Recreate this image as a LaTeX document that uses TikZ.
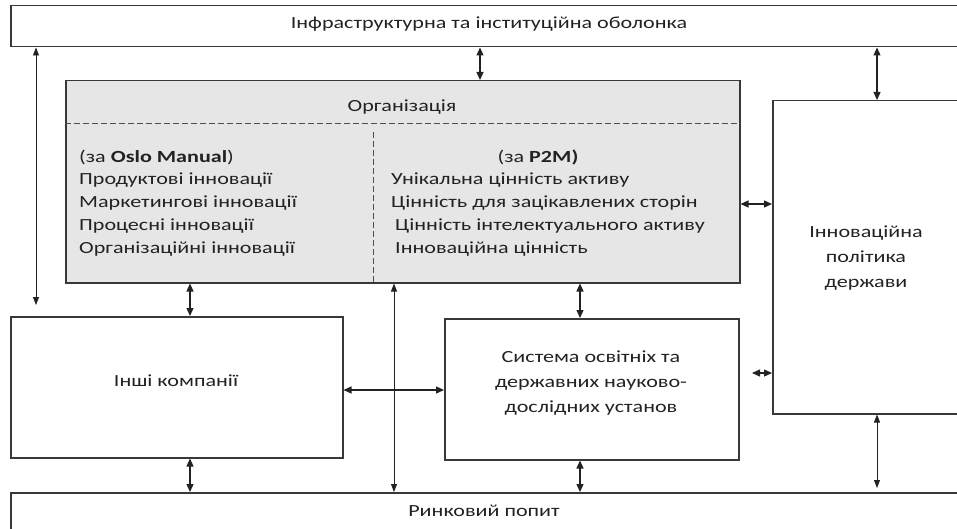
\documentclass[tikz,border=0pt]{standalone}
\usepackage{fontspec}
\setmainfont{Carlito}[FakeStretch=1.3]
\usetikzlibrary{arrows.meta}
\definecolor{ink}{HTML}{222222}
\definecolor{boxgray}{HTML}{E6E6E6}
\tikzset{
  box/.style={draw=ink!90, line width=1.5pt, anchor=north west, inner sep=0pt},
  lbl/.style={text=ink, font=\fontsize{17}{20}\selectfont, inner sep=0pt},
  arr/.style={{Triangle[length=8pt,width=7pt]}-{Triangle[length=8pt,width=7pt]}, line width=1.2pt, draw=ink},
  tarr/.style={{Triangle[length=8pt,width=6pt]}-{Triangle[length=8pt,width=6pt]}, line width=0.8pt, draw=ink},
  dsh/.style={dashed, dash pattern=on 6pt off 3pt, line width=0.9pt, draw=ink!80},
}
\begin{document}
\begin{tikzpicture}[x=1pt,y=-1pt]
\useasboundingbox (0,0) rectangle (957,529);
% boxes
\node[box, minimum width=960pt, minimum height=41pt] (top) at (10,5) {};
\node[box, minimum width=960pt, minimum height=45pt] (bot) at (10,492) {};
\node[box, fill=boxgray, minimum width=674pt, minimum height=202pt] (org) at (65,80) {};
\node[box, minimum width=200pt, minimum height=313pt] (pol) at (772,100) {};
\node[box, minimum width=332pt, minimum height=141pt] (oth) at (10,316) {};
\node[box, minimum width=294pt, minimum height=141pt] (sys) at (444,318) {};
% texts
\node[lbl] (ttop) at (489,24) {Інфраструктурна та інституційна оболонка};
\node[lbl] (tbot) at (484,511) {Ринковий попит};
\node[lbl] (torg) at (402,107) {Організація};
\node[lbl] (toth) at (176,381) {Інші компанії};
\node[lbl, align=center] (tsys) at (591,383) {Система освітніх та\\[5pt]державних науково-\\[5pt]дослідних установ};
\node[lbl, align=center] (tpol) at (866,258) {Інноваційна\\[5pt]політика\\[5pt]держави};
\node[lbl, anchor=west] (l1) at (79,157) {(за \textbf{Oslo Manual})};
\node[lbl, anchor=west] (l2) at (79,180) {Продуктові інновації};
\node[lbl, anchor=west] (l3) at (79,203) {Маркетингові інновації};
\node[lbl, anchor=west] (l4) at (79,226) {Процесні інновації};
\node[lbl, anchor=west] (l5) at (79,249) {Організаційні інновації};
\node[lbl] (r1) at (538,157) {(за \textbf{P2M)}};
\node[lbl, anchor=west] (r2) at (391,180) {Унікальна цінність активу};
\node[lbl, anchor=west] (r3) at (391,203) {Цінність для зацікавлених сторін};
\node[lbl, anchor=west] (r4) at (395,226) {Цінність інтелектуального  активу};
\node[lbl, anchor=west] (r5) at (395,249) {Інноваційна цінність};
% dashed dividers
\coordinate (dv) at (373,132);
\draw[dsh] (org.west |- 0,123) -- (org.east |- 0,123);
\draw[dsh] (dv) -- (dv |- org.south);
% x positions
\coordinate (xa) at (36,305);
\coordinate (xb) at (480,0);
\coordinate (xc) at (877,0);
\coordinate (xd) at (190,0);
\coordinate (xe) at (394,0);
\coordinate (xf) at (580,0);
\coordinate (xg) at (877,488);
\coordinate (ya) at (0,204);
\coordinate (yb) at (752,373);
\coordinate (yc) at (0,390);
% connectors
\draw[tarr] (top.south -| xa) -- (xa);
\draw[arr] (top.south -| xb) -- (org.north -| xb);
\draw[arr] (top.south -| xc) -- (pol.north -| xc);
\draw[arr] (org.south -| xd) -- (oth.north -| xd);
\draw[tarr] (org.south -| xe) -- (bot.north -| xe);
\draw[arr] (org.south -| xf) -- (sys.north -| xf);
\draw[arr] (org.east |- ya) -- (pol.west |- ya);
\draw[arr] (yb) -- (pol.west |- yb);
\draw[arr] (oth.east |- yc) -- (sys.west |- yc);
\draw[arr] (oth.south -| xd) -- (bot.north -| xd);
\draw[arr] (sys.south -| xf) -- (bot.north -| xf);
\draw[tarr] (pol.south -| xg) -- (xg);
\end{tikzpicture}
\end{document}
